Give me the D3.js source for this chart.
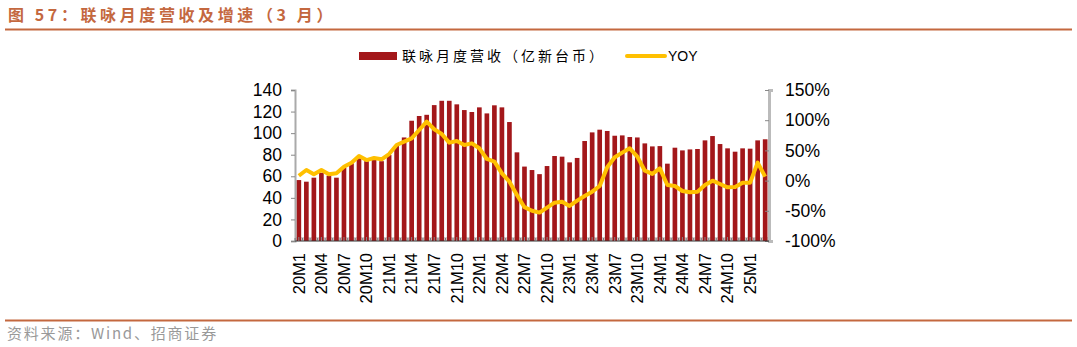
<!DOCTYPE html>
<html lang="zh">
<head>
<meta charset="UTF-8">
<title>联咏月度营收及增速</title>
<script src="https://d3js.org/d3.v7.min.js"></script>
<style>
    * { margin: 0; padding: 0; }
    body { background: #fff; }
    .axis text { font-family: "Liberation Sans", Arial, sans-serif; fill: #000; }
</style>
</head>
<body>
<div id="content"></div>
<script>
    // 月份 20M1 ~ 25M3
    var months = [];
    for (var yr = 20; yr <= 25; yr++) {
        for (var m = 1; m <= 12; m++) {
            if (yr === 25 && m > 3) break;
            months.push(yr + "M" + m);
        }
    }
    // 联咏月度营收（亿新台币）
    var revenue = [56.5, 55, 58.7, 63.3, 60.6, 58.7, 68, 72, 76.6, 74, 77.3, 74,
                   79.7, 89, 96, 111.5, 115.9, 117, 126, 130, 130, 126.7, 121.4, 119.6,
                   123.9, 118.3, 125.8, 123.9, 110.3, 82.2, 69, 65.8, 62, 69.5, 78.8, 78.2,
                   72.9, 77, 92.7, 100.7, 103.2, 102, 97.6, 97.9, 96.4, 96, 90.5, 87.7,
                   88, 71.7, 86.5, 84, 84.9, 85.3, 93.3, 97.3, 89.9, 85.9, 82.8, 85.9,
                   85.6, 93.3, 94.3];
    // YOY（%）
    var yoy = [8, 17.6, 10.4, 17.6, 10.4, 12, 23, 29.7, 40.8, 34, 37.4, 35.2,
               44, 59, 64.5, 70, 83.8, 97.6, 85, 77.2, 62.8, 65.6, 59, 61.7,
               53.5, 35.8, 31.4, 12, -1.8, -23.8, -44, -50, -53, -44.8, -36.5, -34.9,
               -42, -33.2, -25.5, -18.3, -8.9, 22, 38.6, 46.3, 53.5, 39.7, 16.4, 11,
               20.3, -7.3, -8.9, -17.2, -19.4, -18.3, -7.3, -0.1, -5.6, -11.1, -10.5, -3.4,
               -3.4, 29.7, 6.5];
    var leftTicks = [0, 20, 40, 60, 80, 100, 120, 140];
    var rightTicks = [-100, -50, 0, 50, 100, 150];

    var width = 1077, height = 347;
    var plot = {left: 295, right: 769, top: 90, bottom: 241};
    var titleColor = "#C4683F";

    var svg = d3.select("#content").append("svg")
        .attr("width", width).attr("height", height);

    // 标题
    svg.append("text")
        .attr("x", 8).attr("y", 21)
        .attr("font-family", "'Noto Sans CJK SC', sans-serif")
        .attr("font-size", 16).attr("font-weight", "bold")
        .attr("letter-spacing", 3.6)
        .attr("fill", titleColor)
        .text("图 57：联咏月度营收及增速（3 月）");
    svg.append("line")
        .attr("x1", 5).attr("x2", 1072).attr("y1", 29.5).attr("y2", 29.5)
        .attr("stroke", titleColor).attr("stroke-width", 2);

    // 比例尺
    var xScale = d3.scaleBand().domain(months)
        .range([plot.left, plot.right]).paddingInner(0.38).paddingOuter(0.2);
    var yLeft = d3.scaleLinear().domain([0, 140]).range([plot.bottom, plot.top]);
    var yRight = d3.scaleLinear().domain([-100, 150]).range([plot.bottom, plot.top]);

    // 底部灰色带
    svg.append("rect")
        .attr("x", plot.left).attr("y", plot.bottom - 4)
        .attr("width", plot.right - plot.left).attr("height", 4)
        .attr("fill", "#d0d0d0");

    // 柱子
    svg.append("g").selectAll("rect").data(revenue).enter().append("rect")
        .attr("x", function(d, i){ return xScale(months[i]); })
        .attr("y", function(d){ return yLeft(d); })
        .attr("width", xScale.bandwidth())
        .attr("height", function(d){ return plot.bottom - yLeft(d); })
        .attr("fill", "#A3171A");

    // 折线
    var line = d3.line()
        .x(function(d, i){ return xScale(months[i]) + xScale.bandwidth() / 2; })
        .y(function(d){ return yRight(d); });
    svg.append("path")
        .attr("d", line(yoy))
        .attr("fill", "none")
        .attr("stroke", "#FFC000")
        .attr("stroke-width", 4)
        .attr("stroke-linejoin", "round");

    // 坐标轴
    var axisLeft = d3.axisLeft(yLeft).tickValues(leftTicks).tickSize(4).tickPadding(9);
    var gl = svg.append("g").attr("class", "axis")
        .attr("transform", "translate(" + plot.left + ",0)")
        .call(axisLeft);
    gl.selectAll("text").attr("font-size", 17.5);
    gl.select(".domain").attr("stroke", "#aaa").attr("stroke-width", 2);
    gl.selectAll(".tick line").attr("stroke", "#888");

    var axisRight = d3.axisRight(yRight).tickValues(rightTicks)
        .tickFormat(function(d){ return d + "%"; }).tickSize(4).tickPadding(12);
    var gr = svg.append("g").attr("class", "axis")
        .attr("transform", "translate(" + plot.right + ",0)")
        .call(axisRight);
    gr.selectAll("text").attr("font-size", 17.5);
    gr.select(".domain").attr("stroke", "#bbb").attr("stroke-width", 3);
    gr.selectAll(".tick line").attr("stroke", "#888").attr("x2", -4);

    var axisBottom = d3.axisBottom(xScale)
        .tickValues(months.filter(function(d, i){ return i % 3 === 0; }))
        .tickSize(4).tickPadding(10);
    var gb = svg.append("g").attr("class", "axis")
        .attr("transform", "translate(0," + plot.bottom + ")")
        .call(axisBottom);
    gb.select(".domain").attr("stroke", "#333").attr("d", "M" + plot.left + ",0H" + plot.right);
    gb.selectAll(".tick line").attr("stroke", "#888").attr("y2", -4);
    gb.selectAll("text")
        .attr("font-size", 16.5)
        .attr("text-anchor", "end")
        .attr("transform", "rotate(-90)")
        .attr("x", -12).attr("y", 0).attr("dy", "0.35em");
    // 所有月份的小刻度
    svg.append("g").selectAll("line").data(months).enter().append("line")
        .attr("x1", function(d){ return xScale(d) - xScale.step() * xScale.paddingInner() / 2; })
        .attr("x2", function(d){ return xScale(d) - xScale.step() * xScale.paddingInner() / 2; })
        .attr("y1", plot.bottom - 3).attr("y2", plot.bottom)
        .attr("stroke", "#777");

    // 图例
    var legend = svg.append("g");
    legend.append("rect").attr("x", 359).attr("y", 52).attr("width", 38).attr("height", 8)
        .attr("fill", "#A3171A");
    legend.append("text").attr("x", 402).attr("y", 61)
        .attr("font-family", "'Noto Sans CJK SC', sans-serif")
        .attr("font-size", 14).attr("letter-spacing", 3)
        .text("联咏月度营收（亿新台币）");
    legend.append("line").attr("x1", 627).attr("x2", 665).attr("y1", 56).attr("y2", 56)
        .attr("stroke", "#FFC000").attr("stroke-width", 4).attr("stroke-linecap", "round");
    legend.append("text").attr("x", 668).attr("y", 61)
        .attr("font-family", "'Liberation Sans', Arial, sans-serif")
        .attr("font-size", 14)
        .text("YOY");

    // 底部来源
    svg.append("line")
        .attr("x1", 5).attr("x2", 1072).attr("y1", 320.5).attr("y2", 320.5)
        .attr("stroke", titleColor).attr("stroke-width", 2);
    svg.append("text").attr("x", 7).attr("y", 339)
        .attr("font-family", "'Noto Sans CJK SC', sans-serif")
        .attr("font-size", 15).attr("letter-spacing", 1.8).attr("fill", "#999")
        .text("资料来源：Wind、招商证券");
</script>
</body>
</html>
